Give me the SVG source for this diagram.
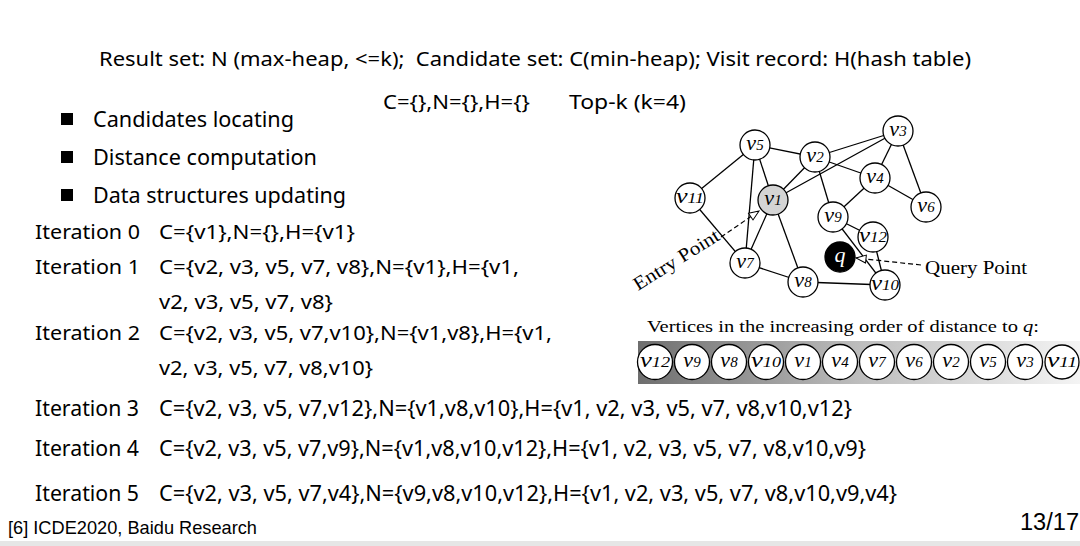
<svg xmlns="http://www.w3.org/2000/svg" width="1080" height="546" viewBox="0 0 1080 546">
<style>
.t{font-family:"Noto Sans","Open Sans","Liberation Sans",sans-serif;fill:#000}
.s{font-family:"Liberation Serif","DejaVu Serif",serif;fill:#000}
.n{fill:#fff;stroke:#000;stroke-width:1.3}
.e{stroke:#000;stroke-width:1.3;fill:none}
.d{stroke:#000;stroke-width:1.2;stroke-dasharray:5 3;fill:none}
.v{font-family:"Liberation Serif","DejaVu Serif",serif;font-style:italic;fill:#000;font-size:22px}
.g{font-size:15px}
</style>
<defs>
<marker id="oa" viewBox="0 0 12 10" refX="11" refY="5" markerWidth="12" markerHeight="10" markerUnits="userSpaceOnUse" orient="auto">
<path d="M1,1 L11,5 L1,9 Z" fill="#fff" stroke="#000" stroke-width="1"/>
</marker>
<linearGradient id="bar" x1="0" y1="0" x2="1" y2="0">
<stop offset="0" stop-color="#6e6e6e"/>
<stop offset="0.5" stop-color="#bdbdbd"/>
<stop offset="1" stop-color="#f4f4f4"/>
</linearGradient>
</defs>
<rect x="0" y="0" width="1080" height="546" fill="#fff"/>
<rect x="0" y="541" width="1080" height="5" fill="#e6e6e6"/>

<g id="header">
<text class="t" x="99" y="66" font-size="20" textLength="872" lengthAdjust="spacingAndGlyphs" xml:space="preserve">Result set: N (max-heap, &lt;=k);  Candidate set: C(min-heap); Visit record: H(hash table)</text>
<text class="t" x="383" y="109" font-size="19" textLength="147" lengthAdjust="spacingAndGlyphs">C={},N={},H={}</text>
<text class="t" x="569" y="109" font-size="19" textLength="117" lengthAdjust="spacingAndGlyphs">Top-k (k=4)</text>
</g>

<g id="bullets">
<rect x="61" y="113" width="12" height="12" fill="#000"/>
<text class="t" x="93" y="127" font-size="22" textLength="201" lengthAdjust="spacingAndGlyphs">Candidates locating</text>
<rect x="61" y="151" width="12" height="12" fill="#000"/>
<text class="t" x="93" y="165" font-size="22" textLength="224" lengthAdjust="spacingAndGlyphs">Distance computation</text>
<rect x="61" y="189" width="12" height="12" fill="#000"/>
<text class="t" x="93" y="203" font-size="22" textLength="253" lengthAdjust="spacingAndGlyphs">Data structures updating</text>
</g>

<g id="iterations">
<text class="t" x="35" y="239" font-size="19" textLength="105" lengthAdjust="spacingAndGlyphs">Iteration 0</text>
<text class="t" x="159" y="239" font-size="19" textLength="196" lengthAdjust="spacingAndGlyphs">C={v1},N={},H={v1}</text>
<text class="t" x="35" y="274" font-size="19" textLength="105" lengthAdjust="spacingAndGlyphs">Iteration 1</text>
<text class="t" x="159" y="274" font-size="19" textLength="360" lengthAdjust="spacingAndGlyphs">C={v2, v3, v5, v7, v8},N={v1},H={v1,</text>
<text class="t" x="159" y="309" font-size="19" textLength="174" lengthAdjust="spacingAndGlyphs">v2, v3, v5, v7, v8}</text>
<text class="t" x="35" y="340" font-size="19" textLength="105" lengthAdjust="spacingAndGlyphs">Iteration 2</text>
<text class="t" x="159" y="340" font-size="19" textLength="393" lengthAdjust="spacingAndGlyphs">C={v2, v3, v5, v7,v10},N={v1,v8},H={v1,</text>
<text class="t" x="159" y="375" font-size="19" textLength="214" lengthAdjust="spacingAndGlyphs">v2, v3, v5, v7, v8,v10}</text>
<text class="t" x="35" y="416" font-size="22" textLength="104" lengthAdjust="spacingAndGlyphs">Iteration 3</text>
<text class="t" x="159" y="416" font-size="22" textLength="693" lengthAdjust="spacingAndGlyphs">C={v2, v3, v5, v7,v12},N={v1,v8,v10},H={v1, v2, v3, v5, v7, v8,v10,v12}</text>
<text class="t" x="35" y="456" font-size="22" textLength="104" lengthAdjust="spacingAndGlyphs">Iteration 4</text>
<text class="t" x="159" y="456" font-size="22" textLength="707" lengthAdjust="spacingAndGlyphs">C={v2, v3, v5, v7,v9},N={v1,v8,v10,v12},H={v1, v2, v3, v5, v7, v8,v10,v9}</text>
<text class="t" x="35" y="501" font-size="22" textLength="104" lengthAdjust="spacingAndGlyphs">Iteration 5</text>
<text class="t" x="159" y="501" font-size="22" textLength="738" lengthAdjust="spacingAndGlyphs">C={v2, v3, v5, v7,v4},N={v9,v8,v10,v12},H={v1, v2, v3, v5, v7, v8,v10,v9,v4}</text>
</g>

<g id="footer">
<text x="8" y="534" font-family="Liberation Sans, Arial, sans-serif" font-size="19" textLength="249" lengthAdjust="spacingAndGlyphs">[6] ICDE2020, Baidu Research</text>
<text x="1020" y="530" font-family="Liberation Sans, Arial, sans-serif" font-size="23" textLength="59" lengthAdjust="spacingAndGlyphs">13/17</text>
</g>

<g id="connectors">
<line class="e" x1="755" y1="145" x2="690" y2="198"/>
<line class="e" x1="755" y1="145" x2="745" y2="263"/>
<line class="e" x1="755" y1="145" x2="773" y2="200"/>
<line class="e" x1="755" y1="145" x2="815" y2="157"/>
<line class="e" x1="815" y1="157" x2="773" y2="200"/>
<line class="e" x1="815" y1="157" x2="898" y2="131"/>
<line class="e" x1="815" y1="157" x2="875" y2="178"/>
<line class="e" x1="815" y1="157" x2="833" y2="217"/>
<line class="e" x1="773" y1="200" x2="898" y2="131"/>
<line class="e" x1="773" y1="200" x2="745" y2="263"/>
<line class="e" x1="773" y1="200" x2="803" y2="282"/>
<line class="e" x1="690" y1="198" x2="745" y2="263"/>
<line class="e" x1="745" y1="263" x2="803" y2="282"/>
<line class="e" x1="803" y1="282" x2="885" y2="285"/>
<line class="e" x1="898" y1="131" x2="875" y2="178"/>
<line class="e" x1="898" y1="131" x2="926" y2="207"/>
<line class="e" x1="875" y1="178" x2="926" y2="207"/>
<line class="e" x1="875" y1="178" x2="833" y2="217"/>
<line class="e" x1="833" y1="217" x2="873" y2="237"/>
<line class="e" x1="833" y1="217" x2="885" y2="285"/>
<line class="e" x1="873" y1="237" x2="885" y2="285"/>
<line class="d" x1="721" y1="237" x2="759" y2="211" marker-end="url(#oa)"/>
<line class="d" x1="921" y1="265" x2="856" y2="258" marker-end="url(#oa)"/>
</g>

<g id="v1"><circle cx="773" cy="200" r="15" fill="#d4d4d4" stroke="#000" stroke-width="1.3"/><text class="v" x="773" y="205" text-anchor="middle">v<tspan class="g">1</tspan></text></g>
<g id="v2"><circle class="n" cx="815" cy="157" r="15"/><text class="v" x="815" y="162" text-anchor="middle">v<tspan class="g">2</tspan></text></g>
<g id="v3"><circle class="n" cx="898" cy="131" r="15"/><text class="v" x="898" y="136" text-anchor="middle">v<tspan class="g">3</tspan></text></g>
<g id="v4"><circle class="n" cx="875" cy="178" r="15"/><text class="v" x="875" y="183" text-anchor="middle">v<tspan class="g">4</tspan></text></g>
<g id="v5"><circle class="n" cx="755" cy="145" r="15"/><text class="v" x="755" y="150" text-anchor="middle">v<tspan class="g">5</tspan></text></g>
<g id="v6"><circle class="n" cx="926" cy="207" r="15"/><text class="v" x="926" y="212" text-anchor="middle">v<tspan class="g">6</tspan></text></g>
<g id="v7"><circle class="n" cx="745" cy="263" r="15"/><text class="v" x="745" y="268" text-anchor="middle">v<tspan class="g">7</tspan></text></g>
<g id="v8"><circle class="n" cx="803" cy="282" r="15"/><text class="v" x="803" y="287" text-anchor="middle">v<tspan class="g">8</tspan></text></g>
<g id="v9"><circle class="n" cx="833" cy="217" r="15"/><text class="v" x="833" y="222" text-anchor="middle">v<tspan class="g">9</tspan></text></g>
<g id="v10"><circle class="n" cx="885" cy="285" r="15"/><text class="v" x="885" y="290" text-anchor="middle" textLength="28" lengthAdjust="spacingAndGlyphs">v<tspan class="g">10</tspan></text></g>
<g id="v11"><circle class="n" cx="690" cy="198" r="15"/><text class="v" x="690" y="203" text-anchor="middle" textLength="28" lengthAdjust="spacingAndGlyphs">v<tspan class="g">11</tspan></text></g>
<g id="v12"><circle class="n" cx="873" cy="237" r="15"/><text class="v" x="873" y="242" text-anchor="middle" textLength="28" lengthAdjust="spacingAndGlyphs">v<tspan class="g">12</tspan></text></g>
<g id="q"><circle cx="840" cy="257" r="15" fill="#000" stroke="#000" stroke-width="1.3"/><text class="v" x="840" y="262" text-anchor="middle" style="fill:#fff">q</text></g>

<g id="labels">
<text class="s" font-size="19" transform="translate(638,291) rotate(-32)" textLength="98" lengthAdjust="spacingAndGlyphs">Entry Point</text>
<text class="s" x="925" y="274" font-size="19" textLength="102" lengthAdjust="spacingAndGlyphs">Query Point</text>
</g>

<g id="order-bar">
<text class="s" x="647" y="332" font-size="17.5" textLength="392" lengthAdjust="spacingAndGlyphs">Vertices in the increasing order of distance to <tspan font-style="italic">q</tspan>:</text>
<rect x="638" y="341" width="442" height="43" fill="url(#bar)"/>
<g id="o1"><circle class="n" cx="655" cy="362" r="17.5"/><text class="v" x="655" y="367" text-anchor="middle" textLength="30" lengthAdjust="spacingAndGlyphs">v<tspan class="g">12</tspan></text></g>
<g id="o2"><circle class="n" cx="692" cy="362" r="17.5"/><text class="v" x="692" y="367" text-anchor="middle">v<tspan class="g">9</tspan></text></g>
<g id="o3"><circle class="n" cx="729" cy="362" r="17.5"/><text class="v" x="729" y="367" text-anchor="middle">v<tspan class="g">8</tspan></text></g>
<g id="o4"><circle class="n" cx="766" cy="362" r="17.5"/><text class="v" x="766" y="367" text-anchor="middle" textLength="30" lengthAdjust="spacingAndGlyphs">v<tspan class="g">10</tspan></text></g>
<g id="o5"><circle class="n" cx="803" cy="362" r="17.5"/><text class="v" x="803" y="367" text-anchor="middle">v<tspan class="g">1</tspan></text></g>
<g id="o6"><circle class="n" cx="840" cy="362" r="17.5"/><text class="v" x="840" y="367" text-anchor="middle">v<tspan class="g">4</tspan></text></g>
<g id="o7"><circle class="n" cx="877" cy="362" r="17.5"/><text class="v" x="877" y="367" text-anchor="middle">v<tspan class="g">7</tspan></text></g>
<g id="o8"><circle class="n" cx="914" cy="362" r="17.5"/><text class="v" x="914" y="367" text-anchor="middle">v<tspan class="g">6</tspan></text></g>
<g id="o9"><circle class="n" cx="951" cy="362" r="17.5"/><text class="v" x="951" y="367" text-anchor="middle">v<tspan class="g">2</tspan></text></g>
<g id="o10"><circle class="n" cx="988" cy="362" r="17.5"/><text class="v" x="988" y="367" text-anchor="middle">v<tspan class="g">5</tspan></text></g>
<g id="o11"><circle class="n" cx="1025" cy="362" r="17.5"/><text class="v" x="1025" y="367" text-anchor="middle">v<tspan class="g">3</tspan></text></g>
<g id="o12"><circle class="n" cx="1062" cy="362" r="17"/><text class="v" x="1062" y="367" text-anchor="middle" textLength="30" lengthAdjust="spacingAndGlyphs">v<tspan class="g">11</tspan></text></g>
</g>
</svg>
